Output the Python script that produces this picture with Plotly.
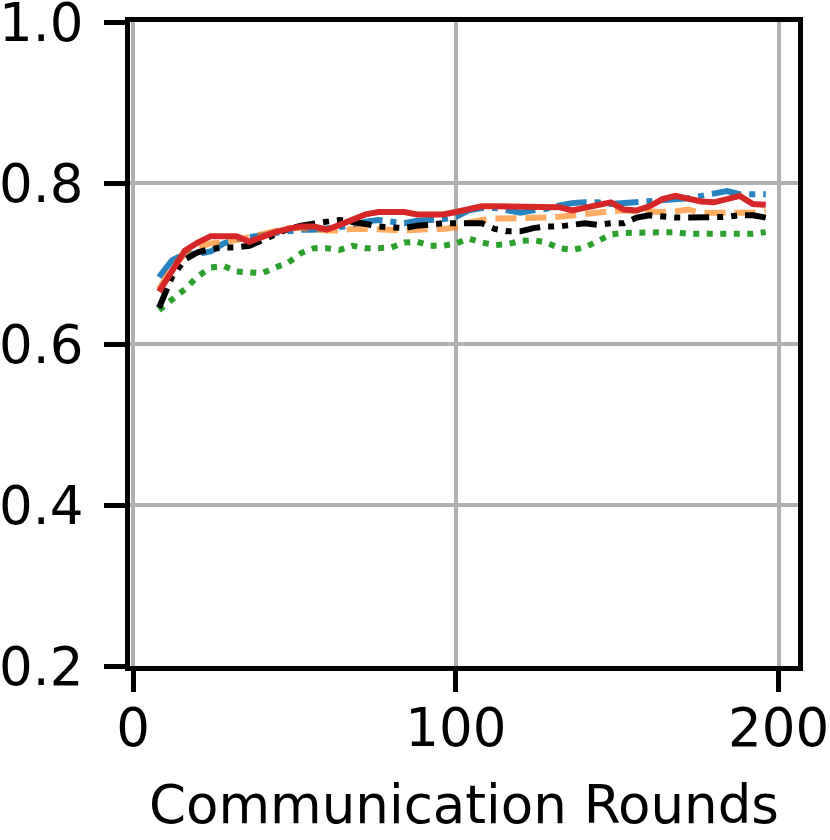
import plotly.graph_objects as go

rounds = list(range(8, 200, 4))

blue = [0.683, 0.704, 0.712, 0.712, 0.715, 0.725, 0.730, 0.733, 0.736, 0.738, 0.740, 0.742,
        0.742, 0.743, 0.745, 0.748, 0.752, 0.754, 0.752, 0.750, 0.753, 0.754, 0.755, 0.758,
        0.766, 0.769, 0.769, 0.766, 0.763, 0.766, 0.768, 0.772, 0.775, 0.776, 0.776, 0.774,
        0.775, 0.776, 0.777, 0.778, 0.779, 0.781, 0.784, 0.787, 0.790, 0.786, 0.786, 0.786]

orange = [0.668, 0.695, 0.712, 0.720, 0.725, 0.726, 0.729, 0.733, 0.736, 0.740, 0.744, 0.744,
          0.742, 0.741, 0.741, 0.743, 0.743, 0.742, 0.742, 0.741, 0.742, 0.742, 0.743, 0.745,
          0.751, 0.754, 0.756, 0.756, 0.756, 0.756, 0.757, 0.758, 0.760, 0.761, 0.763, 0.765,
          0.766, 0.765, 0.764, 0.764, 0.765, 0.767, 0.763, 0.763, 0.762, 0.762, 0.763, 0.766]

green = [0.642, 0.654, 0.668, 0.684, 0.695, 0.697, 0.690, 0.689, 0.688, 0.695, 0.701, 0.713,
         0.719, 0.719, 0.717, 0.722, 0.719, 0.719, 0.720, 0.726, 0.727, 0.722, 0.722, 0.725,
         0.731, 0.726, 0.723, 0.724, 0.728, 0.729, 0.726, 0.719, 0.717, 0.720, 0.728, 0.736,
         0.738, 0.738, 0.738, 0.739, 0.739, 0.737, 0.737, 0.737, 0.737, 0.737, 0.737, 0.739]

black = [0.645, 0.683, 0.705, 0.714, 0.718, 0.720, 0.720, 0.722, 0.729, 0.737, 0.743, 0.747,
         0.750, 0.752, 0.754, 0.752, 0.749, 0.746, 0.745, 0.744, 0.747, 0.749, 0.750, 0.750,
         0.750, 0.750, 0.743, 0.740, 0.740, 0.744, 0.746, 0.746, 0.748, 0.750, 0.748, 0.750,
         0.750, 0.757, 0.760, 0.758, 0.757, 0.757, 0.757, 0.757, 0.758, 0.760, 0.760, 0.757]

red = [0.665, 0.692, 0.716, 0.726, 0.734, 0.734, 0.734, 0.727, 0.733, 0.739, 0.743, 0.746,
       0.746, 0.742, 0.748, 0.755, 0.761, 0.764, 0.764, 0.764, 0.761, 0.761, 0.761, 0.764,
       0.767, 0.771, 0.771, 0.771, 0.771, 0.771, 0.771, 0.770, 0.766, 0.769, 0.773, 0.776,
       0.767, 0.766, 0.771, 0.780, 0.784, 0.780, 0.777, 0.776, 0.780, 0.784, 0.774, 0.773]

x_ticks = [0, 100, 200]
y_ticks = [0.2, 0.4, 0.6, 0.8, 1.0]

series = [
    (blue, "rgb(40,130,190)", "30px,8px,6px,8px"),
    (orange, "rgba(255,127,14,0.65)", "21px,9px"),
    (green, "#2ca02c", "6px,7.5px"),
    (black, "black", "21px,8px,6px,8px,6px,8px"),
    (red, "#d62728", "solid"),
]

fig = go.Figure()
for vals, color, dash in series:
    fig.add_trace(go.Scatter(x=rounds, y=vals, mode="lines",
                             line=dict(color=color, width=6, dash=dash),
                             showlegend=False, hoverinfo="skip"))

font = dict(family="DejaVu Sans", size=53, color="black")
fig.update_layout(
    width=830, height=840,
    margin=dict(l=130, r=32, t=22, b=174),
    paper_bgcolor="white", plot_bgcolor="white",
    font=font,
)
fig.update_xaxes(
    range=[-1.0, 206], tickvals=x_ticks, ticktext=[str(v) for v in x_ticks],
    showgrid=True, gridcolor="#b0b0b0", gridwidth=4, zeroline=False,
    showline=True, mirror=True, linecolor="black", linewidth=5,
    ticks="outside", ticklen=21, tickwidth=5, tickcolor="black",
    tickfont=font, ticklabelstandoff=-10, automargin=False,
    ticklabeloverflow="allow",
    title=dict(text="Communication Rounds", font=font, standoff=31),
)
fig.update_yaxes(
    range=[0.2, 1.0], tickvals=y_ticks, ticktext=[f"{v:.1f}" for v in y_ticks],
    showgrid=True, gridcolor="#b0b0b0", gridwidth=4, zeroline=False,
    showline=True, mirror=True, linecolor="black", linewidth=5,
    ticks="outside", ticklen=21, tickwidth=5, tickcolor="black",
    tickfont=font, ticklabelstandoff=10, automargin=False,
    ticklabeloverflow="allow",
)
fig.write_html("out.html", config={"displayModeBar": False},
               post_script="document.body.style.margin='0px';")
